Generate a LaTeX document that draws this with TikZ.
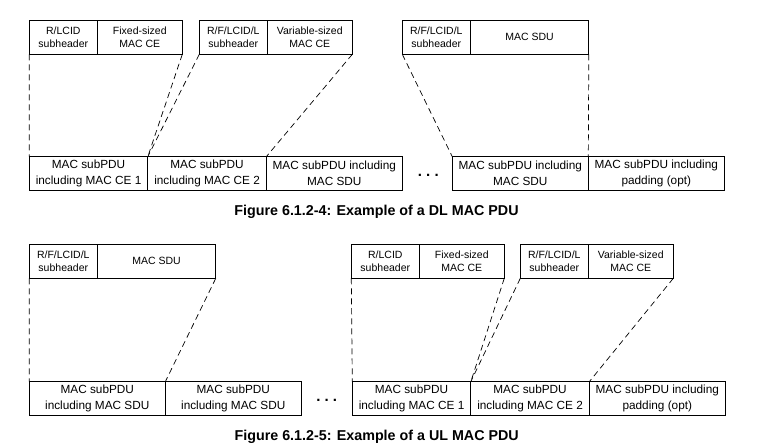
\documentclass[tikz,border=0pt]{standalone}
\usepackage{fontspec}
\setmainfont{Liberation Sans}
\usepackage{tikz}
\usetikzlibrary{positioning}

\begin{document}
\begin{tikzpicture}[x=1pt, y=-1pt,
	cell/.style={draw, line width=0.8pt, minimum height=34pt, inner sep=0pt, outer sep=0pt, align=center},
	hdr/.style={cell, font=\fontsize{10.5}{13.4}\selectfont},
	pdu/.style={cell, font=\fontsize{11.8}{16}\selectfont},
	wsmall/.style={minimum width=68pt},
	wmed/.style={minimum width=85pt},
	wbig/.style={minimum width=118.5pt},
	wwide/.style={minimum width=136pt},
	gap/.style={font=\fontsize{15}{15}\bfseries},
	caption/.style={font=\fontsize{14.3}{17}\bfseries},
	conn/.style={dash pattern=on 6pt off 4pt, line width=0.7pt}]
			\useasboundingbox (0,0) rectangle (765,445);
			% DL MAC PDU
			\node[hdr, wsmall, anchor=north west] (dlh1a) at (29.3,20.3) {R/LCID\\subheader};
			\node[hdr, wmed, right=0pt of dlh1a] (dlh1b) {Fixed-sized\\MAC CE};
			\node[hdr, wsmall, right=17pt of dlh1b] (dlh2a) {R/F/LCID/L\\subheader};
			\node[hdr, wmed, right=0pt of dlh2a] (dlh2b) {Variable-sized\\MAC CE};
			\node[hdr, wsmall, right=50pt of dlh2b] (dlh3a) {R/F/LCID/L\\subheader};
			\node[hdr, wbig, right=0pt of dlh3a] (dlh3b) {MAC SDU};
			\node[pdu, wbig, anchor=north west] (dlp1) at (29.3,156.7) {MAC subPDU\\including MAC CE 1};
			\node[pdu, wbig, right=0pt of dlp1] (dlp2) {MAC subPDU\\including MAC CE 2};
			\node[pdu, wwide, right=0pt of dlp2] (dlp3) {MAC subPDU including\\MAC SDU};
			\node[pdu, wwide, right=50pt of dlp3] (dlp4) {MAC subPDU including\\MAC SDU};
			\node[pdu, wwide, right=0pt of dlp4] (dlp5) {MAC subPDU including\\padding (opt)};
			\node[gap] (dldots) at (428.3,175.7) {.\ .\ .};
			\node[caption] (dlcap) at (376.5,212) {Figure 6.1.2-4: Example of a DL MAC PDU};
			% UL MAC PDU
			\node[hdr, wsmall, anchor=north west] (ulh1a) at (29.3,244.3) {R/F/LCID/L\\subheader};
			\node[hdr, wbig, right=0pt of ulh1a] (ulh1b) {MAC SDU};
			\node[hdr, wsmall, right=135.5pt of ulh1b] (ulh2a) {R/LCID\\subheader};
			\node[hdr, wmed, right=0pt of ulh2a] (ulh2b) {Fixed-sized\\MAC CE};
			\node[hdr, wsmall, right=16pt of ulh2b] (ulh3a) {R/F/LCID/L\\subheader};
			\node[hdr, wmed, right=0pt of ulh3a] (ulh3b) {Variable-sized\\MAC CE};
			\node[pdu, wwide, anchor=north west] (ulp1) at (29.3,381.7) {MAC subPDU\\including MAC SDU};
			\node[pdu, wwide, right=0pt of ulp1] (ulp2) {MAC subPDU\\including MAC SDU};
			\node[pdu, wbig, right=51pt of ulp2] (ulp3) {MAC subPDU\\including MAC CE 1};
			\node[pdu, wbig, right=0pt of ulp3] (ulp4) {MAC subPDU\\including MAC CE 2};
			\node[pdu, wwide, right=0pt of ulp4] (ulp5) {MAC subPDU including\\padding (opt)};
			\node[gap] (uldots) at (326.7,400) {.\ .\ .};
			\node[caption] (ulcap) at (376.7,437.3) {Figure 6.1.2-5: Example of a UL MAC PDU};
			\draw[conn]
						(dlh1a.south west) -- (dlp1.north west)
						(dlh1b.south east) -- (dlp1.north east)
						(dlh2a.south west) -- (dlp2.north west)
						(dlh2b.south east) -- (dlp2.north east)
						(dlh3a.south west) -- (dlp4.north west)
						(dlh3b.south east) -- (dlp4.north east)
						(ulh1a.south west) -- (ulp1.north west)
						(ulh1b.south east) -- (ulp1.north east)
						(ulh2a.south west) -- (ulp3.north west)
						(ulh2b.south east) -- (ulp3.north east)
						(ulh3a.south west) -- (ulp4.north west)
						(ulh3b.south east) -- (ulp4.north east);
		\end{tikzpicture}
\end{document}
